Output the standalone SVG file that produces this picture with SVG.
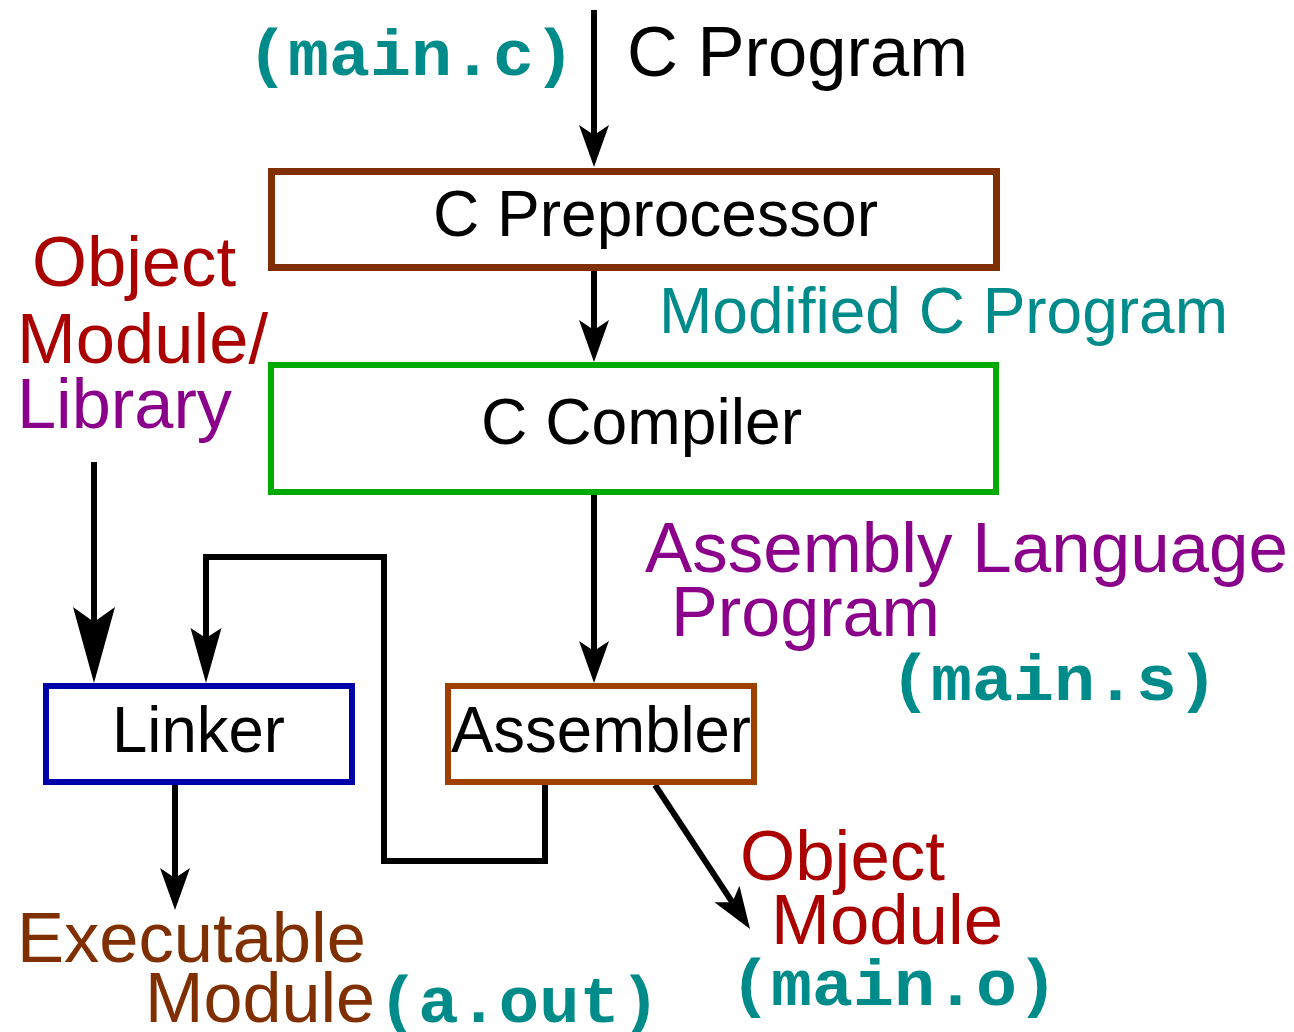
<svg xmlns="http://www.w3.org/2000/svg" width="1294" height="1032" viewBox="0 0 1294 1032">
  <style>
    .sans { font-family: "Liberation Sans", Arial, sans-serif; }
    .mono { font-family: "Liberation Mono", "Courier New", monospace; font-weight: bold; font-size: 64px; fill: #008b8b; }
    .lbl { font-size: 70px; }
    .box-txt { font-size: 64px; fill: #000; }
    .box { fill: #fff; }
    .conn { fill: none; stroke: #000; stroke-width: 6; stroke-linejoin: miter; }
    .teal { fill: #008b8b; }
    .red { fill: #aa0000; }
    .purple { fill: #8b008b; }
    .brown { fill: #803000; }
  </style>
  <defs>
    <!-- barbed arrowheads, anchored at the notch so the shaft tucks inside -->
    <marker id="arrow-s" markerUnits="userSpaceOnUse" orient="auto" refX="10" refY="0" markerWidth="60" markerHeight="40" overflow="visible">
      <path d="M0,-15 L42,0 L0,15 L10,0 Z" fill="#000"/>
    </marker>
    <marker id="arrow-m" markerUnits="userSpaceOnUse" orient="auto" refX="10" refY="0" markerWidth="70" markerHeight="40" overflow="visible">
      <path d="M0,-15.5 L55,0 L0,15.5 L10,0 Z" fill="#000"/>
    </marker>
    <marker id="arrow-l" markerUnits="userSpaceOnUse" orient="auto" refX="15" refY="0" markerWidth="90" markerHeight="50" overflow="visible">
      <path d="M0,-21 L76,0 L0,21 L15,0 Z" fill="#000"/>
    </marker>
  </defs>

  <rect width="1294" height="1032" fill="#fff"/>

  <!-- connectors -->
  <g id="connectors">
    <path class="conn" d="M594,10 V135" marker-end="url(#arrow-s)"/>
    <path class="conn" d="M594,271 V330" marker-end="url(#arrow-s)"/>
    <path class="conn" d="M594,495 V651" marker-end="url(#arrow-s)"/>
    <path class="conn" d="M94,462 V622" marker-end="url(#arrow-l)"/>
    <path class="conn" d="M545,785 V861 H384 V557 H206 V638" marker-end="url(#arrow-m)"/>
    <path class="conn" d="M175,785 V878" marker-end="url(#arrow-s)"/>
    <path class="conn" d="M655,785 L732.4,902.3" marker-end="url(#arrow-s)"/>
  </g>

  <!-- processing stages -->
  <g id="preprocessor">
    <rect class="box" x="271.5" y="171.5" width="725" height="96" stroke="#7f2f00" stroke-width="7"/>
    <text class="sans box-txt" x="433" y="236" textLength="445" lengthAdjust="spacingAndGlyphs">C Preprocessor</text>
  </g>
  <g id="compiler">
    <rect class="box" x="271" y="365" width="725" height="127" stroke="#00aa00" stroke-width="6"/>
    <text class="sans box-txt" x="481" y="444" textLength="321" lengthAdjust="spacingAndGlyphs">C Compiler</text>
  </g>
  <g id="assembler">
    <rect class="box" x="448" y="686" width="306" height="96" stroke="#a04000" stroke-width="6"/>
    <text class="sans box-txt" x="451" y="752" textLength="300" lengthAdjust="spacingAndGlyphs">Assembler</text>
  </g>
  <g id="linker">
    <rect class="box" x="46" y="686" width="306" height="96" stroke="#0000aa" stroke-width="6"/>
    <text class="sans box-txt" x="112" y="752" textLength="173" lengthAdjust="spacingAndGlyphs">Linker</text>
  </g>

  <!-- data labels -->
  <g id="source">
    <text class="mono" x="247" y="75" textLength="328" lengthAdjust="spacingAndGlyphs">(main.c)</text>
    <text class="sans lbl" x="627" y="76" fill="#000" textLength="341" lengthAdjust="spacingAndGlyphs">C Program</text>
  </g>
  <g id="modified">
    <text class="sans teal" font-size="64" x="659" y="333" textLength="569" lengthAdjust="spacingAndGlyphs">Modified C Program</text>
  </g>
  <g id="assembly">
    <text class="sans lbl purple" x="645" y="572" textLength="643" lengthAdjust="spacingAndGlyphs">Assembly Language</text>
    <text class="sans lbl purple" x="671" y="636" textLength="269" lengthAdjust="spacingAndGlyphs">Program</text>
    <text class="mono" x="890" y="700" textLength="328" lengthAdjust="spacingAndGlyphs">(main.s)</text>
  </g>
  <g id="library">
    <text class="sans lbl red" x="32" y="286" textLength="204" lengthAdjust="spacingAndGlyphs">Object</text>
    <text class="sans lbl red" x="17" y="363" textLength="251" lengthAdjust="spacingAndGlyphs">Module/</text>
    <text class="sans lbl purple" x="17" y="428" textLength="215" lengthAdjust="spacingAndGlyphs">Library</text>
  </g>
  <g id="executable">
    <text class="sans lbl brown" x="17" y="962" textLength="349" lengthAdjust="spacingAndGlyphs">Executable</text>
    <text class="sans lbl brown" x="145" y="1022" textLength="230" lengthAdjust="spacingAndGlyphs">Module</text>
    <text class="mono" x="378" y="1022" textLength="282" lengthAdjust="spacingAndGlyphs">(a.out)</text>
  </g>
  <g id="object">
    <text class="sans lbl red" x="740" y="880" textLength="205" lengthAdjust="spacingAndGlyphs">Object</text>
    <text class="sans lbl red" x="771" y="944" textLength="232" lengthAdjust="spacingAndGlyphs">Module</text>
    <text class="mono" x="730" y="1005" textLength="328" lengthAdjust="spacingAndGlyphs">(main.o)</text>
  </g>
</svg>
